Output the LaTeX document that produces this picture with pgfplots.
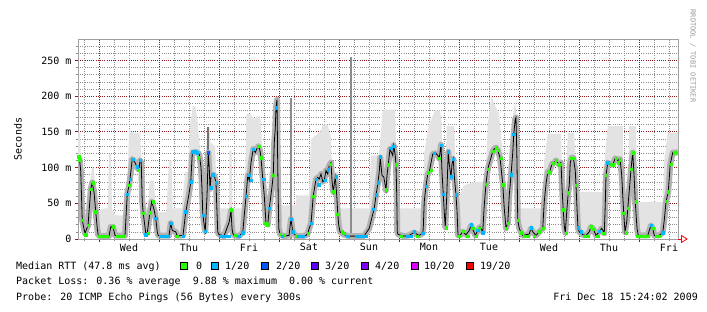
\documentclass[border=0pt]{standalone}
\usepackage{pgfplots}
\pgfplotsset{compat=1.18}
\usepgfplotslibrary{fillbetween}
\usepackage{fontspec}
\setmainfont{DejaVu Sans Mono}
\definecolor{darkred}{HTML}{8B1A1A}
\definecolor{gridgray}{HTML}{8C8C8C}
\definecolor{frame}{HTML}{A0A0A0}
\definecolor{l0}{HTML}{26FF00}
\definecolor{l1}{HTML}{00B8FF}
\definecolor{l2}{HTML}{0059FF}
\definecolor{l3}{HTML}{5E00FF}
\definecolor{l4}{HTML}{7E00FF}
\definecolor{l10}{HTML}{DD00FF}
\definecolor{l19}{HTML}{FF0000}
\begin{document}
\begin{tikzpicture}
\begin{axis}[
  at={(78pt,73pt)}, anchor=south west,
  scale only axis, width=600pt, height=200pt,
  xmin=-8.4, xmax=231.6, ymin=0, ymax=280,
  axis line style={draw=frame, line width=0.9pt},
  xtick={0,24,...,216}, xticklabels={},
  minor xtick={-6,6,12,18,30,36,42,54,60,66,78,84,90,102,108,114,126,132,138,150,156,162,174,180,186,198,204,210,222,228},
  extra x ticks={12,36,60,84,108,132,156,180,204,228},
  extra x tick labels={Wed,Thu,Fri,Sat,Sun,Mon,Tue,Wed,Thu,Fri},
  extra x tick style={grid=none, major tick length=0pt},
  ytick={0,50,100,150,200,250},
  yticklabels={0,50 m,100 m,150 m,200 m,250 m},
  minor ytick={10,20,30,40,60,70,80,90,110,120,130,140,160,170,180,190,210,220,230,240,260,270},
  grid=both,
  major grid style={draw=darkred, line width=0.8pt, dash pattern=on 1pt off 1.2pt},
  minor grid style={draw=gridgray, line width=0.7pt, dash pattern=on 1pt off 1.2pt},
  xtick pos=bottom, ytick pos=left, tick align=outside,
  major tick length=3pt, minor tick length=2pt,
  every major tick/.append style={draw=darkred, line width=0.8pt},
  every minor tick/.append style={draw=gridgray, line width=0.7pt},
  tick label style={font=\fontsize{10}{12}\selectfont},
  xticklabel style={yshift=-1pt},
  ylabel={Seconds},
  every axis y label/.style={at={(axis description cs:-0.1,0.5)}, rotate=90, anchor=center, font=\fontsize{10}{12}\selectfont},
]
% smoke upper envelope
\addplot[name path=up, draw=none, forget plot] coordinates {
(-8.4,149) (-7.5,149) (-7,60) (-6.5,36) (-5,36) (-4.5,40) (-3.5,80) (-2.8,100) (-2,100) (-1.5,61) (-0.5,40) (0,40) (2,43) (3.5,43) (4,119) (4.8,119) (5.2,40) (7,33) (10,33) (10.6,61) (11.3,61) (12,154) (13,150) (15,148) (16.5,148) (17,100) (17.5,56) (18.5,50) (19.5,40) (20.3,82) (22,82) (22.5,50) (23.5,38) (27,38) (28,110) (29,110) (29.5,43) (33,43) (34.5,94) (35.5,94) (36.5,160) (37.5,186) (38.5,186) (39.5,163) (40.5,120) (41,89) (42.5,60) (43.2,157) (44.1,157) (44.6,135) (46.5,130) (47,61) (47.8,43) (52,43) (52.2,124) (53,124) (53.4,43) (58,43) (58.5,100) (59,175) (60.5,175) (62,168) (63.5,172) (64.5,172) (65.5,120) (66.3,70) (66.6,47) (67.5,47) (68,94) (69.5,94) (70,150) (70.5,190) (71.2,200) (71.8,60) (72.4,47) (78.8,47) (79,61) (84,61) (84.8,140) (88.5,150) (89.5,160) (91.5,160) (92.8,140) (93.2,94) (95.5,94) (96.4,43) (108,43) (108.8,117) (112,117) (113.5,181) (118.5,181) (119.3,60) (120,43) (129.5,43) (130.1,120) (132,160) (134.4,180) (136.4,180) (137,163) (137.5,84) (138.5,84) (139.1,158) (142.1,158) (142.8,61) (144.1,61) (146,75) (150,80) (154.5,80) (155.5,160) (157,200) (158,190) (160,175) (161.5,120) (162.1,70) (163.5,70) (164.1,120) (165.5,170) (166.5,195) (167.3,150) (167.8,43) (177.5,43) (178.1,110) (179.5,147) (184.8,147) (185.2,100) (186.5,61) (187.5,149) (190.1,149) (190.8,90) (192.1,66) (202.1,66) (202.5,120) (203.5,158) (209.5,158) (209.9,52) (211.5,52) (212.1,158) (214.8,158) (215.2,52) (225.5,52) (226.1,110) (227.5,149) (231.6,149)
};
% median RTT
\addplot[name path=med, draw=none, forget plot] coordinates {
(-8.4,113) (-7.8,112) (-7.3,95) (-6.7,26) (-5.6,8) (-4.4,19) (-3.3,70) (-2.7,79) (-2,66) (-1.3,38) (-0.7,15) (-0.3,5) (1,4) (2.5,4.5) (4,4) (4.7,17) (5.6,17) (6.4,5) (8,4.6) (10.4,4.6) (10.7,24) (11.3,63) (12,75) (12.4,84) (13.3,112) (14.4,107) (15.3,100) (16,97) (16.4,110) (16.9,107) (17.3,52) (17.7,36) (18.7,8) (19.3,8) (20.3,36) (21.1,52) (22.1,40) (22.7,29) (23.3,10) (23.7,5) (26,4.6) (28,4.6) (28.7,22) (29.3,12) (30.7,10) (31.3,4.5) (33.6,5) (34.7,38) (36,63) (36.7,80) (37.3,119) (38.4,122) (39.3,121) (40.1,119) (40.8,100) (41.2,70) (41.5,36) (42.1,19) (42.5,11) (43.2,60) (43.7,121) (44.1,100) (44.4,70) (44.8,87) (45.5,90) (46.1,89) (46.8,79) (47.1,47) (47.5,10) (47.9,6.5) (50,4) (52.1,24) (52.8,40) (53.2,15) (53.5,8) (54.1,5) (56,4) (57.5,9) (58.1,33) (58.8,59) (59.5,89) (60.1,82) (60.8,107) (61.7,126) (62.5,121) (63.1,126) (63.7,130) (64.4,124) (64.8,114) (65.5,84) (66.1,61) (66.8,22) (67.5,20) (68.1,43) (69.2,73) (69.7,89) (70.1,135) (70.5,154) (70.8,184) (71.2,195) (71.5,100) (71.9,15) (72.4,6.5) (74,4) (76,5) (76.8,28) (77.5,10) (78.8,4) (81,4) (82.8,5) (83.5,8) (84.1,15) (84.8,22) (85.7,60) (86.8,84) (87.5,86) (88.1,84) (88.8,91) (89.5,80) (90.1,82) (90.8,96) (91.5,91) (92.1,103) (92.8,107) (93.2,82) (93.7,66) (94.5,87) (95.1,61) (95.5,36) (95.9,19) (96.4,10) (98,6) (100,4) (102,4) (104,4) (106,4) (108.1,15) (108.8,25) (110.1,43) (110.8,61) (111.5,77) (112.1,94) (112.5,114) (113.2,89) (113.9,87) (114.4,77) (114.8,68) (115.2,89) (115.7,104) (116.4,126) (117.5,117) (117.9,131) (118.5,117) (118.8,103) (119.1,61) (119.3,10) (119.6,6.5) (122,4) (124,5) (126,9) (128,5) (129.5,8) (129.7,15) (130.1,52) (130.8,75) (131.5,91) (132.1,94) (133.5,119) (134.8,120) (135.5,117) (136.1,113) (136.8,132) (137.2,94) (137.7,63) (138.1,38) (138.5,17) (139.1,60) (139.7,122) (140.1,105) (140.8,87) (141.2,105) (141.7,112) (142.1,89) (142.8,61) (143.2,40) (143.6,5.5) (144.4,5) (145.5,10) (146.8,6) (148.1,12) (148.8,19) (149.7,12) (150.5,5) (151.5,12) (152.4,17) (153.5,10) (154.1,47) (154.8,77) (155.5,98) (156.8,114) (157.5,123) (158.1,126) (158.8,128) (159.5,124) (160.4,114) (161.5,77) (162.1,43) (162.8,15) (163.5,22) (164.1,61) (164.8,89) (165.5,121) (165.9,147) (166.5,168) (166.8,170) (167.2,107) (167.5,26) (168.1,15) (168.8,9) (169.5,5) (172.1,7) (172.8,15) (173.5,10) (174.8,5) (176.1,10) (177.5,15) (178.1,52) (178.8,77) (179.5,94) (180.4,96) (181.2,105) (182.1,107) (182.8,110) (183.9,105) (184.8,107) (185.2,73) (185.7,40) (186.1,19) (186.5,9) (187.2,43) (187.7,65) (188.1,75) (188.5,107) (189.1,114) (189.7,114) (190.5,96) (190.8,75) (191.2,43) (191.6,15) (192.1,10) (193.5,6) (194.8,5) (196.1,10) (196.8,17) (197.7,14) (198.8,5) (200.1,10) (201.1,15) (202.1,8) (202.5,47) (202.8,89) (203.5,107) (204.1,105) (205.5,104) (206.5,113) (207.5,110) (208.4,112) (209.1,89) (209.5,61) (209.9,36) (210.4,10) (211.1,24) (211.5,43) (212.4,80) (212.8,98) (213.5,121) (214.1,84) (214.5,52) (215.2,15) (215.7,5) (217.5,5) (219.5,5) (220.4,15) (220.8,19) (221.5,15) (222.1,5) (224.1,5) (225.5,9) (226.1,26) (226.8,52) (227.7,66) (228.5,105) (229.5,121) (230.1,121) (230.8,121) (231.6,122)
};
\addplot[fill=black!11, draw=none, forget plot] fill between[of=up and med];
% smoke spikes
\addplot[ycomb, draw=black!45, line width=2.4pt, forget plot] coordinates {(76.9,198) (100.7,255)};
\addplot[draw=black!55, line width=2.4pt, forget plot] coordinates {(43.6,62) (43.6,157)};
% smoke near median
\addplot[draw=black!30, line width=6pt, line join=round, forget plot] coordinates {
(-8.4,113) (-7.8,112) (-7.3,95) (-6.7,26) (-5.6,8) (-4.4,19) (-3.3,70) (-2.7,79) (-2,66) (-1.3,38) (-0.7,15) (-0.3,5) (1,4) (2.5,4.5) (4,4) (4.7,17) (5.6,17) (6.4,5) (8,4.6) (10.4,4.6) (10.7,24) (11.3,63) (12,75) (12.4,84) (13.3,112) (14.4,107) (15.3,100) (16,97) (16.4,110) (16.9,107) (17.3,52) (17.7,36) (18.7,8) (19.3,8) (20.3,36) (21.1,52) (22.1,40) (22.7,29) (23.3,10) (23.7,5) (26,4.6) (28,4.6) (28.7,22) (29.3,12) (30.7,10) (31.3,4.5) (33.6,5) (34.7,38) (36,63) (36.7,80) (37.3,119) (38.4,122) (39.3,121) (40.1,119) (40.8,100) (41.2,70) (41.5,36) (42.1,19) (42.5,11) (43.2,60) (43.7,121) (44.1,100) (44.4,70) (44.8,87) (45.5,90) (46.1,89) (46.8,79) (47.1,47) (47.5,10) (47.9,6.5) (50,4) (52.1,24) (52.8,40) (53.2,15) (53.5,8) (54.1,5) (56,4) (57.5,9) (58.1,33) (58.8,59) (59.5,89) (60.1,82) (60.8,107) (61.7,126) (62.5,121) (63.1,126) (63.7,130) (64.4,124) (64.8,114) (65.5,84) (66.1,61) (66.8,22) (67.5,20) (68.1,43) (69.2,73) (69.7,89) (70.1,135) (70.5,154) (70.8,184) (71.2,195) (71.5,100) (71.9,15) (72.4,6.5) (74,4) (76,5) (76.8,28) (77.5,10) (78.8,4) (81,4) (82.8,5) (83.5,8) (84.1,15) (84.8,22) (85.7,60) (86.8,84) (87.5,86) (88.1,84) (88.8,91) (89.5,80) (90.1,82) (90.8,96) (91.5,91) (92.1,103) (92.8,107) (93.2,82) (93.7,66) (94.5,87) (95.1,61) (95.5,36) (95.9,19) (96.4,10) (98,6) (100,4) (102,4) (104,4) (106,4) (108.1,15) (108.8,25) (110.1,43) (110.8,61) (111.5,77) (112.1,94) (112.5,114) (113.2,89) (113.9,87) (114.4,77) (114.8,68) (115.2,89) (115.7,104) (116.4,126) (117.5,117) (117.9,131) (118.5,117) (118.8,103) (119.1,61) (119.3,10) (119.6,6.5) (122,4) (124,5) (126,9) (128,5) (129.5,8) (129.7,15) (130.1,52) (130.8,75) (131.5,91) (132.1,94) (133.5,119) (134.8,120) (135.5,117) (136.1,113) (136.8,132) (137.2,94) (137.7,63) (138.1,38) (138.5,17) (139.1,60) (139.7,122) (140.1,105) (140.8,87) (141.2,105) (141.7,112) (142.1,89) (142.8,61) (143.2,40) (143.6,5.5) (144.4,5) (145.5,10) (146.8,6) (148.1,12) (148.8,19) (149.7,12) (150.5,5) (151.5,12) (152.4,17) (153.5,10) (154.1,47) (154.8,77) (155.5,98) (156.8,114) (157.5,123) (158.1,126) (158.8,128) (159.5,124) (160.4,114) (161.5,77) (162.1,43) (162.8,15) (163.5,22) (164.1,61) (164.8,89) (165.5,121) (165.9,147) (166.5,168) (166.8,170) (167.2,107) (167.5,26) (168.1,15) (168.8,9) (169.5,5) (172.1,7) (172.8,15) (173.5,10) (174.8,5) (176.1,10) (177.5,15) (178.1,52) (178.8,77) (179.5,94) (180.4,96) (181.2,105) (182.1,107) (182.8,110) (183.9,105) (184.8,107) (185.2,73) (185.7,40) (186.1,19) (186.5,9) (187.2,43) (187.7,65) (188.1,75) (188.5,107) (189.1,114) (189.7,114) (190.5,96) (190.8,75) (191.2,43) (191.6,15) (192.1,10) (193.5,6) (194.8,5) (196.1,10) (196.8,17) (197.7,14) (198.8,5) (200.1,10) (201.1,15) (202.1,8) (202.5,47) (202.8,89) (203.5,107) (204.1,105) (205.5,104) (206.5,113) (207.5,110) (208.4,112) (209.1,89) (209.5,61) (209.9,36) (210.4,10) (211.1,24) (211.5,43) (212.4,80) (212.8,98) (213.5,121) (214.1,84) (214.5,52) (215.2,15) (215.7,5) (217.5,5) (219.5,5) (220.4,15) (220.8,19) (221.5,15) (222.1,5) (224.1,5) (225.5,9) (226.1,26) (226.8,52) (227.7,66) (228.5,105) (229.5,121) (230.1,121) (230.8,121) (231.6,122)
};
% median line
\addplot[draw=black, line width=0.8pt, forget plot] coordinates {
(-8.4,113) (-7.8,112) (-7.3,95) (-6.7,26) (-5.6,8) (-4.4,19) (-3.3,70) (-2.7,79) (-2,66) (-1.3,38) (-0.7,15) (-0.3,5) (1,4) (2.5,4.5) (4,4) (4.7,17) (5.6,17) (6.4,5) (8,4.6) (10.4,4.6) (10.7,24) (11.3,63) (12,75) (12.4,84) (13.3,112) (14.4,107) (15.3,100) (16,97) (16.4,110) (16.9,107) (17.3,52) (17.7,36) (18.7,8) (19.3,8) (20.3,36) (21.1,52) (22.1,40) (22.7,29) (23.3,10) (23.7,5) (26,4.6) (28,4.6) (28.7,22) (29.3,12) (30.7,10) (31.3,4.5) (33.6,5) (34.7,38) (36,63) (36.7,80) (37.3,119) (38.4,122) (39.3,121) (40.1,119) (40.8,100) (41.2,70) (41.5,36) (42.1,19) (42.5,11) (43.2,60) (43.7,121) (44.1,100) (44.4,70) (44.8,87) (45.5,90) (46.1,89) (46.8,79) (47.1,47) (47.5,10) (47.9,6.5) (50,4) (52.1,24) (52.8,40) (53.2,15) (53.5,8) (54.1,5) (56,4) (57.5,9) (58.1,33) (58.8,59) (59.5,89) (60.1,82) (60.8,107) (61.7,126) (62.5,121) (63.1,126) (63.7,130) (64.4,124) (64.8,114) (65.5,84) (66.1,61) (66.8,22) (67.5,20) (68.1,43) (69.2,73) (69.7,89) (70.1,135) (70.5,154) (70.8,184) (71.2,195) (71.5,100) (71.9,15) (72.4,6.5) (74,4) (76,5) (76.8,28) (77.5,10) (78.8,4) (81,4) (82.8,5) (83.5,8) (84.1,15) (84.8,22) (85.7,60) (86.8,84) (87.5,86) (88.1,84) (88.8,91) (89.5,80) (90.1,82) (90.8,96) (91.5,91) (92.1,103) (92.8,107) (93.2,82) (93.7,66) (94.5,87) (95.1,61) (95.5,36) (95.9,19) (96.4,10) (98,6) (100,4) (102,4) (104,4) (106,4) (108.1,15) (108.8,25) (110.1,43) (110.8,61) (111.5,77) (112.1,94) (112.5,114) (113.2,89) (113.9,87) (114.4,77) (114.8,68) (115.2,89) (115.7,104) (116.4,126) (117.5,117) (117.9,131) (118.5,117) (118.8,103) (119.1,61) (119.3,10) (119.6,6.5) (122,4) (124,5) (126,9) (128,5) (129.5,8) (129.7,15) (130.1,52) (130.8,75) (131.5,91) (132.1,94) (133.5,119) (134.8,120) (135.5,117) (136.1,113) (136.8,132) (137.2,94) (137.7,63) (138.1,38) (138.5,17) (139.1,60) (139.7,122) (140.1,105) (140.8,87) (141.2,105) (141.7,112) (142.1,89) (142.8,61) (143.2,40) (143.6,5.5) (144.4,5) (145.5,10) (146.8,6) (148.1,12) (148.8,19) (149.7,12) (150.5,5) (151.5,12) (152.4,17) (153.5,10) (154.1,47) (154.8,77) (155.5,98) (156.8,114) (157.5,123) (158.1,126) (158.8,128) (159.5,124) (160.4,114) (161.5,77) (162.1,43) (162.8,15) (163.5,22) (164.1,61) (164.8,89) (165.5,121) (165.9,147) (166.5,168) (166.8,170) (167.2,107) (167.5,26) (168.1,15) (168.8,9) (169.5,5) (172.1,7) (172.8,15) (173.5,10) (174.8,5) (176.1,10) (177.5,15) (178.1,52) (178.8,77) (179.5,94) (180.4,96) (181.2,105) (182.1,107) (182.8,110) (183.9,105) (184.8,107) (185.2,73) (185.7,40) (186.1,19) (186.5,9) (187.2,43) (187.7,65) (188.1,75) (188.5,107) (189.1,114) (189.7,114) (190.5,96) (190.8,75) (191.2,43) (191.6,15) (192.1,10) (193.5,6) (194.8,5) (196.1,10) (196.8,17) (197.7,14) (198.8,5) (200.1,10) (201.1,15) (202.1,8) (202.5,47) (202.8,89) (203.5,107) (204.1,105) (205.5,104) (206.5,113) (207.5,110) (208.4,112) (209.1,89) (209.5,61) (209.9,36) (210.4,10) (211.1,24) (211.5,43) (212.4,80) (212.8,98) (213.5,121) (214.1,84) (214.5,52) (215.2,15) (215.7,5) (217.5,5) (219.5,5) (220.4,15) (220.8,19) (221.5,15) (222.1,5) (224.1,5) (225.5,9) (226.1,26) (226.8,52) (227.7,66) (228.5,105) (229.5,121) (230.1,121) (230.8,121) (231.6,122)
};
% loss markers: 0/20
\addplot[only marks, mark=square*, mark size=1.2pt, mark options={draw=l0, fill=l0}, forget plot] coordinates {
(-8.2,115) (-7.7,111) (-6.7,26) (-5.3,6) (-4.4,19) (-3.3,70) (-2.4,79) (-1.3,38) (0.3,4) (1.3,4) (2.3,4) (3.3,4) (5.6,17) (7.2,4) (8.2,4) (9.2,4) (10,4) (12,75) (15.6,97) (17.6,36) (19.6,8) (20.5,37) (21.6,52) (31,4) (39.7,114)
(52.8,41) (54.5,5) (63.9,130) (64.8,114) (66.7,22) (67.4,20) (69.7,89) (72.4,7) (74.1,5) (78.8,4) (80.8,4) (83.6,8) (85.7,60)
(92.5,105) (93.7,66) (95.5,35) (97.2,10) (98.1,8) (114.8,69) (115.7,104) (118.8,104) (120.8,4) (127.2,4) (131.7,93) (132.8,96) (135.9,113)
(138.8,16) (143.9,4) (145.7,11) (147.5,4) (149.5,15) (150.8,4) (152.1,15) (154.8,77) (155.7,98) (157.7,123) (158.8,128) (159.7,124) (160.8,113) (161.5,76) (162.8,15) (163.7,22) (167.7,26) (168.8,9) (170.1,4) (171.5,4) (174.1,4) (176.1,10) (177.5,15) (179.7,94) (180.4,93) (181.5,106) (182.8,110) (183.9,104)
(184.4,105) (185.7,41) (186.8,8) (187.7,65) (189.1,113) (189.9,113) (190.8,75) (194.1,4) (195.5,4) (196.8,17) (197.7,14) (199.5,4) (201.9,8) (202.8,89) (204.4,105) (205.7,104) (206.8,113) (207.7,107) (208.4,110) (209.9,36) (210.8,9) (211.7,43) (212.8,98) (213.7,121) (214.8,52) (215.5,4) (216.8,4) (218.1,4) (219.5,4) (221.5,15) (222.8,4) (224.1,4) (226.8,53) (227.7,66) (228.8,105) (230.1,121) (230.8,121)
};
% loss markers: 1/20
\addplot[only marks, mark=square*, mark size=1.2pt, mark options={draw=l1, fill=l1}, forget plot] coordinates {
(11.2,63) (12.4,84) (13.4,112) (15.2,101) (16.4,110) (18.7,6) (22.7,29) (24.5,4) (25.5,4) (26.5,4) (27.5,4) (28.7,22) (33.6,4) (34.7,38) (36.7,80) (37.3,122) (38.4,122) (39.2,121)
(41.8,33) (42.5,11) (44.6,72) (45.5,90) (46.8,79) (48.7,4) (49.8,4) (51,4) (51.8,4) (55.8,4) (57.4,9) (58.8,60) (59.9,89) (60.9,82) (61.7,126) (65.9,84) (68.1,43) (70.8,184) (73.3,4) (76.8,28) (77.5,10) (79.8,4) (81.5,4) (84.8,22) (86.8,84)
(87.9,76) (90.4,82) (91.7,97) (94.8,87) (99.5,4) (102.8,4) (104,4) (105.5,4) (106.8,4) (109.7,42) (110.8,62) (111.7,79) (112.5,115) (116.8,127) (117.9,130) (123.5,4) (124.8,4) (126.1,10) (129.5,8) (130.8,74) (134.1,120) (136.8,131)
(137.7,63) (139.7,122) (140.8,87) (141.7,112) (142.8,62) (148.8,20) (151.5,12) (153.5,9) (164.8,90) (165.9,147) (172.8,16)
(191.7,16) (192.8,10) (200.1,11) (203.5,107) (220.8,19) (225.5,9)
};
% loss markers: 2/20
\addplot[only marks, mark=square*, mark size=1.2pt, mark options={draw=l2, fill=l2}, forget plot] coordinates {(43.7,121)};
\draw[black, line width=0.9pt] (axis cs:-8.4,0) -- (axis cs:231.6,0);
\end{axis}
% arrow at end of time axis
\draw[l19, line width=0.8pt] (678pt,73pt) -- (682pt,73pt);
\draw[l19, line width=0.8pt] (681.5pt,76.5pt) -- (681.5pt,69.5pt) -- (687pt,73pt) -- cycle;
% vertical credit
\node[rotate=-90, text=black!40, font=\fontsize{7}{8}\selectfont, inner sep=0] at (693pt,256pt) {RRDTOOL / TOBI OETIKER};
% legend
\node[anchor=base west, inner sep=0] at (16pt,42.5pt) {Median RTT (47.8 ms avg)};
\foreach \c/\x/\t/\tx in {l0/180.5/0/196, l1/211.5/1\slash 20/225, l2/261/2\slash 20/276, l3/311/3\slash 20/325, l4/361/4\slash 20/375, l10/411/10\slash 20/424, l19/466.5/19\slash 20/480}{
  \filldraw[fill=\c, draw=black, line width=0.6pt] (\x pt,42.5pt) rectangle ++(7pt,7pt);
  \node[anchor=base west, inner sep=0] at (\tx pt,42.5pt) {\t};
}
\node[anchor=base west, inner sep=0] at (16pt,27.5pt) {Packet Loss: 0.36 \% average\ \ 9.88 \% maximum\ \ 0.00 \% current};
\node[anchor=base west, inner sep=0] at (16pt,11.5pt) {Probe: 20 ICMP Echo Pings (56 Bytes) every 300s};
\node[anchor=base east, inner sep=0] at (698pt,11.5pt) {Fri Dec 18 15:24:02 2009};
\path (0pt,0pt) rectangle (707pt,312pt);
\end{tikzpicture}
\end{document}
